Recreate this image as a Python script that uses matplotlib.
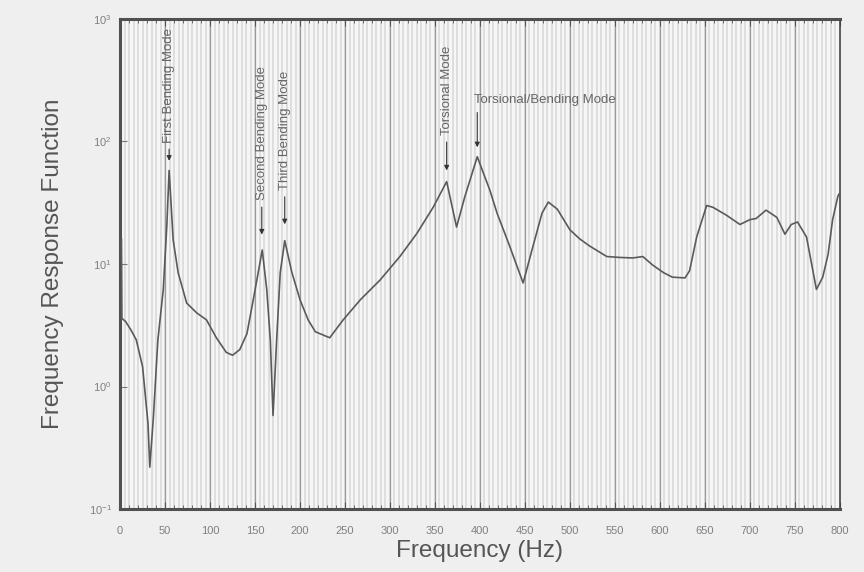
import matplotlib
matplotlib.use("Agg")
import matplotlib.pyplot as plt
import numpy as np

plt.rcParams['font.family'] = ['Liberation Sans', 'DejaVu Sans']

# curve
freq = [1.5, 2, 6, 12, 18, 25, 31, 33, 37, 42, 48, 52, 54.5, 59, 64.5, 74, 85, 96,
        107, 118, 125, 133, 141, 148, 153.5, 158, 163, 167, 170, 174, 178, 183,
        191, 200, 209, 217, 233, 248, 267, 289, 311, 330, 348, 363, 374, 383,
        397, 411, 419, 433, 448, 459, 469, 476, 486, 500, 511, 522, 541, 556,
        570, 581, 592, 604, 614, 628, 633, 641, 652, 659, 674, 689, 700, 707,
        718, 730, 739, 746, 753, 763, 774, 781, 787, 792, 798, 800]
frf = [16, 3.6, 3.4, 2.9, 2.4, 1.45, 0.5, 0.22, 0.56, 2.4, 6.2, 21, 58, 15.7,
       8.5, 4.8, 4.0, 3.5, 2.5, 1.9, 1.8, 2.0, 2.7, 5.1, 8.5, 13, 6.2, 2.4,
       0.58, 2.4, 8.5, 15.5, 8.5, 5.1, 3.5, 2.8, 2.5, 3.5, 5.1, 7.4, 11.5,
       17.8, 29, 47, 20, 35, 75, 40, 26, 14, 7.0, 14, 26, 32, 28, 19, 16, 14,
       11.5, 11.3, 11.2, 11.5, 9.8, 8.5, 7.8, 7.7, 8.8, 16.7, 30, 29, 25, 21,
       23, 23.5, 27.5, 24, 17.5, 21, 22, 16.6, 6.2, 7.8, 12, 23, 36, 38]

# vertical mode labels: text, frequency, arrow tip value, text bottom value
vert_labels = ["First Bending Mode", "Second Bending Mode", "Third Bending Mode", "Torsional Mode"]
vert_freq = [54.5, 157.5, 183, 363]
vert_tip = [66, 16.5, 20, 55]
vert_text_bottom = [98, 33, 40, 112]

horiz_label = "Torsional/Bending Mode"
horiz_freq = 397
horiz_tip = 85
horiz_text_y = 195

fig = plt.figure(figsize=(8.64, 5.72), dpi=100, facecolor='#efefef')
ax = fig.add_axes([0.139, 0.110, 0.833, 0.857])
ax.set_facecolor('#f6f6f6')

# scan-like vertical stripes and major lines
for xv in np.arange(5, 800, 5):
    ax.axvline(xv, color='#dedede', lw=1.4, zorder=0)
for xv in np.arange(50, 800, 50):
    ax.axvline(xv, color='#9a9a9a', lw=0.9, zorder=0.5)

ax.plot(freq, frf, color='#5a5a5a', lw=1.2, zorder=3)

for lab, f, tip, tb in zip(vert_labels, vert_freq, vert_tip, vert_text_bottom):
    ax.text(f, tb, lab, rotation=90, ha='center', va='bottom', fontsize=9.5,
            color='#666666', zorder=4)
    ax.annotate('', xy=(f, tip), xytext=(f, tb * 0.93),
                arrowprops=dict(arrowstyle='-|>', color='#333333', lw=0.8,
                                mutation_scale=7), zorder=4)

ax.text(horiz_freq - 4, horiz_text_y, horiz_label, ha='left', va='bottom',
        fontsize=9.5, color='#666666', zorder=4)
ax.annotate('', xy=(horiz_freq, horiz_tip), xytext=(horiz_freq, horiz_text_y * 0.93),
            arrowprops=dict(arrowstyle='-|>', color='#333333', lw=0.8,
                            mutation_scale=7), zorder=4)

ax.set_yscale('log')
ax.set_ylim(0.1, 1000)
ax.set_xlim(0, 800)
ax.set_xticks(np.arange(0, 801, 50))
ax.set_xticks(np.arange(0, 801, 10), minor=True)
ax.tick_params(axis='x', which='both', direction='in', top=True, labelsize=8,
               colors='#555555', labelcolor='#808080', pad=12)
ax.tick_params(axis='x', which='major', length=5)
ax.tick_params(axis='x', which='minor', length=3)
ax.tick_params(axis='y', which='major', direction='in', length=5, labelsize=8,
               colors='#777777', labelcolor='#808080', pad=6)
ax.tick_params(axis='y', which='minor', length=0)

for s in ['left', 'bottom', 'top']:
    ax.spines[s].set_linewidth(2.2)
    ax.spines[s].set_color('#505050')
ax.spines['right'].set_linewidth(1.2)
ax.spines['right'].set_color('#444444')

ax.set_xlabel("Frequency (Hz)", fontsize=17.5, color='#555555', labelpad=3)
ax.set_ylabel("Frequency Response Function", fontsize=17.5, color='#555555', labelpad=18)

fig.savefig("out.png", dpi=100, facecolor=fig.get_facecolor())
